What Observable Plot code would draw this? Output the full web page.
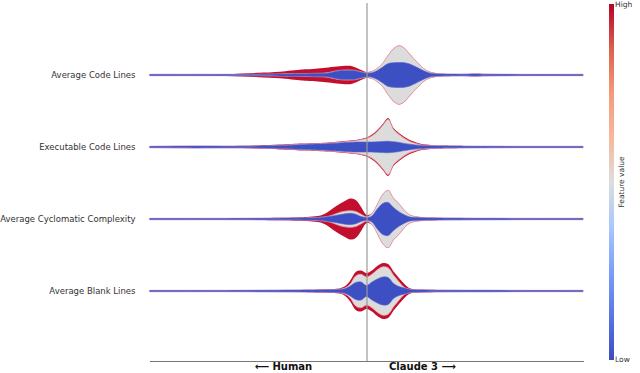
<!DOCTYPE html>
<html><head><meta charset="utf-8">
<script src="https://cdn.jsdelivr.net/npm/d3@7"></script>
<script src="https://cdn.jsdelivr.net/npm/@observablehq/plot@0.6"></script>
<style>
body{margin:0;background:#fff;font-family:"DejaVu Sans",sans-serif;}
#wrap{position:relative;width:640px;height:373px;overflow:hidden;}
#wrap svg{position:absolute;left:0;top:0;}
.cb{position:absolute;left:609px;top:4px;width:5px;height:356px;}
.cbt{position:absolute;font-size:7.5px;color:#333;white-space:nowrap;}
</style></head><body><div id="wrap"></div>
<script>
// Features (top to bottom)
const features = ["Average Code Lines", "Executable Code Lines", "Average Cyclomatic Complexity", "Average Blank Lines"];
// SHAP value grid
const xGrid = [-1.0, -0.8, -0.65, -0.5, -0.4, -0.3, -0.275, -0.25, -0.225, -0.2, -0.175, -0.15, -0.125, -0.1, -0.075, -0.05, -0.025, 0, 0.025, 0.05, 0.075, 0.1, 0.125, 0.15, 0.175, 0.2, 0.225, 0.25, 0.275, 0.3, 0.325, 0.35, 0.45, 0.5, 0.55, 0.7, 1.0];
// Cumulative densities: all points (high values outermost), mid+low, low only
const codeLinesAll  = [0.6,0.7,1.0,2.2,3.3,5.5,5.8,6.1,6.5,7.0,7.6,8.2,8.8,9.2,9.2,7.6,5.0,3.0,3.8,7.0,12,20,26.5,29.5,27,21,15,9.5,5,2.8,1.8,1.3,0.9,1.2,1.0,0.7,0.6];
const codeLinesMid  = [0.6,0.6,0.6,0.7,1.0,1.4,1.5,1.6,1.7,1.8,2.4,3.7,4.6,5.0,5.0,4.6,3.2,2.2,3.5,6.7,11.7,19.7,26.2,29.2,26.7,20.7,14.7,9.2,4.7,2.5,1.5,1.1,0.8,1.1,0.9,0.6,0.6];
const codeLinesLow  = [0.6,0.6,0.6,0.6,0.9,1.2,1.3,1.4,1.5,1.6,2.0,3.3,4.2,4.5,4.5,4.2,2.8,1.8,2.2,4.5,8,11.5,12.3,12.5,12.3,11,8.5,5.8,3.2,1.6,1.1,0.9,0.8,1.0,0.8,0.6,0.6];
const execLinesAll  = [0.7,1.0,1.0,1.6,2.4,3.4,3.6,3.8,4.0,4.3,4.6,5.0,5.4,5.9,6.4,7.0,8.0,9.5,12.5,17,23,29,19,14,10,7,5.0,3.3,2.5,2.0,1.6,1.4,1.0,0.9,0.8,0.7,0.6];
const execLinesMid  = [0.6,0.9,0.8,0.9,1.7,2.7,2.9,3.1,3.3,3.6,3.9,4.3,4.7,5.2,5.7,6.3,7.2,8.6,11.1,15.6,21.6,27.6,17.6,12.6,8.6,5.6,3.7,2.2,1.7,1.4,1.2,1.0,0.8,0.7,0.7,0.6,0.6];
const execLinesLow  = [0.6,0.9,0.8,0.9,1.4,2.3,2.5,2.7,2.9,3.1,3.4,3.7,4.0,4.4,4.7,5.0,5.0,5.0,5.0,5.3,5.6,5.8,5.3,4.6,3.6,2.8,2.1,1.6,1.3,1.1,1.0,0.9,0.8,0.7,0.7,0.6,0.6];
const cycloAll      = [0.6,0.6,0.7,0.9,1.2,1.8,2.0,2.4,3.0,4.5,7.5,11.5,15,18,20.5,19,12,4.3,5.7,15,25,29,21,15.5,9,4.3,2.8,2.0,1.6,1.4,1.2,1.1,0.9,0.8,0.8,0.7,0.6];
const cycloMid      = [0.6,0.6,0.6,0.7,0.8,1.0,1.1,1.2,1.5,2.0,2.8,4.5,6.5,7.8,8.3,7.5,4.8,2.2,5.4,14.7,24.7,28.7,20.7,15.2,8.7,4.0,2.5,1.7,1.4,1.2,1.0,0.9,0.8,0.7,0.7,0.6,0.6];
const cycloLow      = [0.6,0.6,0.6,0.7,0.8,0.9,1.0,1.1,1.3,1.7,2.4,3.3,4.3,5.2,5.7,4.8,2.5,1.5,3.0,10,15.5,16.5,11.5,7.3,4.2,2.0,1.5,1.3,1.1,1.0,0.9,0.9,0.8,0.7,0.7,0.6,0.6];
const blankAll      = [0.6,0.6,0.7,0.8,0.9,1.1,1.2,1.3,1.6,1.7,1.9,2.1,2.6,4.7,10.5,19,20.5,18,20.5,25,28,27,19.5,13,7,2.8,1.8,1.5,1.3,1.2,1.1,1.0,0.9,0.8,0.8,0.7,0.6];
const blankMid      = [0.6,0.6,0.6,0.7,0.8,0.9,1.0,1.0,1.1,1.2,1.3,1.4,1.7,2.9,7,15,16.7,14,16.7,21.2,24.2,23.2,15.7,9.2,3.5,1.8,1.3,1.1,1.0,0.9,0.8,0.8,0.7,0.7,0.7,0.6,0.6];
const blankLow      = [0.6,0.6,0.6,0.7,0.8,0.9,0.9,0.9,1.0,1.0,1.1,1.2,1.5,2.2,5,8.5,9,5.5,9,12,14,13.5,7.5,4.5,3,1.5,1.1,1.0,0.9,0.8,0.8,0.8,0.7,0.7,0.7,0.6,0.6];
// Bottom direction labels
const sideLabels = ["\u27F5 Human", "Claude 3 \u27F6"];
const sideLabelX = [-0.386, 0.256];
// Colour bar labels
const colorbarLabels = ["High", "Low"];
const colorbarTitle = "Feature value";

const layerSets = [
  [codeLinesAll, codeLinesMid, codeLinesLow],
  [execLinesAll, execLinesMid, execLinesLow],
  [cycloAll, cycloMid, cycloLow],
  [blankAll, blankMid, blankLow]
];
const data = features.flatMap((f, i) => xGrid.map((x, j) => ({
  feature: f, i, x,
  all: layerSets[i][0][j], mid: layerSets[i][1][j], low: layerSets[i][2][j]
})));
const k = 1 / 72; // density -> row units
const curve = "catmull-rom";
const layer = (key, opts) => Plot.areaY(data, {
  x: "x", y1: d => d.i - d[key] * k, y2: d => d.i + d[key] * k, z: "feature", curve, ...opts
});

const chart = Plot.plot({
  width: 640, height: 373,
  marginLeft: 150, marginRight: 57, marginTop: 3, marginBottom: 12,
  x: {domain: [-1, 1], axis: null, label: null},
  y: {domain: [-1, 3.972], reverse: true, axis: null, label: null},
  style: {fontFamily: "DejaVu Sans", fontSize: "8.5px", color: "#333", background: "white"},
  marks: [
    layer("all", {fill: "#c30f2e"}),
    layer("mid", {fill: "#dcdcdc", stroke: "#eba2aa", strokeWidth: 0.8}),
    layer("low", {fill: "#3c4fc3", stroke: "#5a62cc", strokeWidth: 0.6}),
    Plot.ruleX([0], {stroke: "#9a9a9a", strokeWidth: 1.2}),
    Plot.frame({anchor: "bottom", stroke: "#777"}),
    Plot.axisY([0, 1, 2, 3], {tickFormat: (d) => features[d], tickSize: 0, tickPadding: 15, fontSize: 8.5, fill: "#333", label: null}),
    Plot.axisX(sideLabelX, {tickFormat: (d, i) => sideLabels[i], tickSize: 0, tickPadding: 1.5, fontSize: 10, fontWeight: "bold", fill: "#111", anchor: "bottom", label: null})
  ]
});
const wrap = document.getElementById("wrap");
wrap.appendChild(chart);

// colour bar (coolwarm)
const cw = ["#b40426", "#dd604d", "#f49a7b", "#f7b89c", "#dddddd", "#aac7fd", "#7b9ff9", "#5977e3", "#3b4cc0"];
const cb = document.createElement("div");
cb.className = "cb";
cb.style.background = `linear-gradient(to bottom, ${cw.map((c, i) => `${c} ${(i / (cw.length - 1) * 100).toFixed(1)}%`).join(", ")})`;
wrap.appendChild(cb);
const hi = document.createElement("div");
hi.className = "cbt"; hi.textContent = colorbarLabels[0];
hi.style.left = "615px"; hi.style.top = "0px";
wrap.appendChild(hi);
const lo = document.createElement("div");
lo.className = "cbt"; lo.textContent = colorbarLabels[1];
lo.style.left = "615px"; lo.style.top = "355px";
wrap.appendChild(lo);
const ttl = document.createElement("div");
ttl.className = "cbt"; ttl.textContent = colorbarTitle;
ttl.style.left = "621px"; ttl.style.top = "182px";
ttl.style.transform = "translate(-50%,-50%) rotate(-90deg)";
wrap.appendChild(ttl);
</script></body></html>
